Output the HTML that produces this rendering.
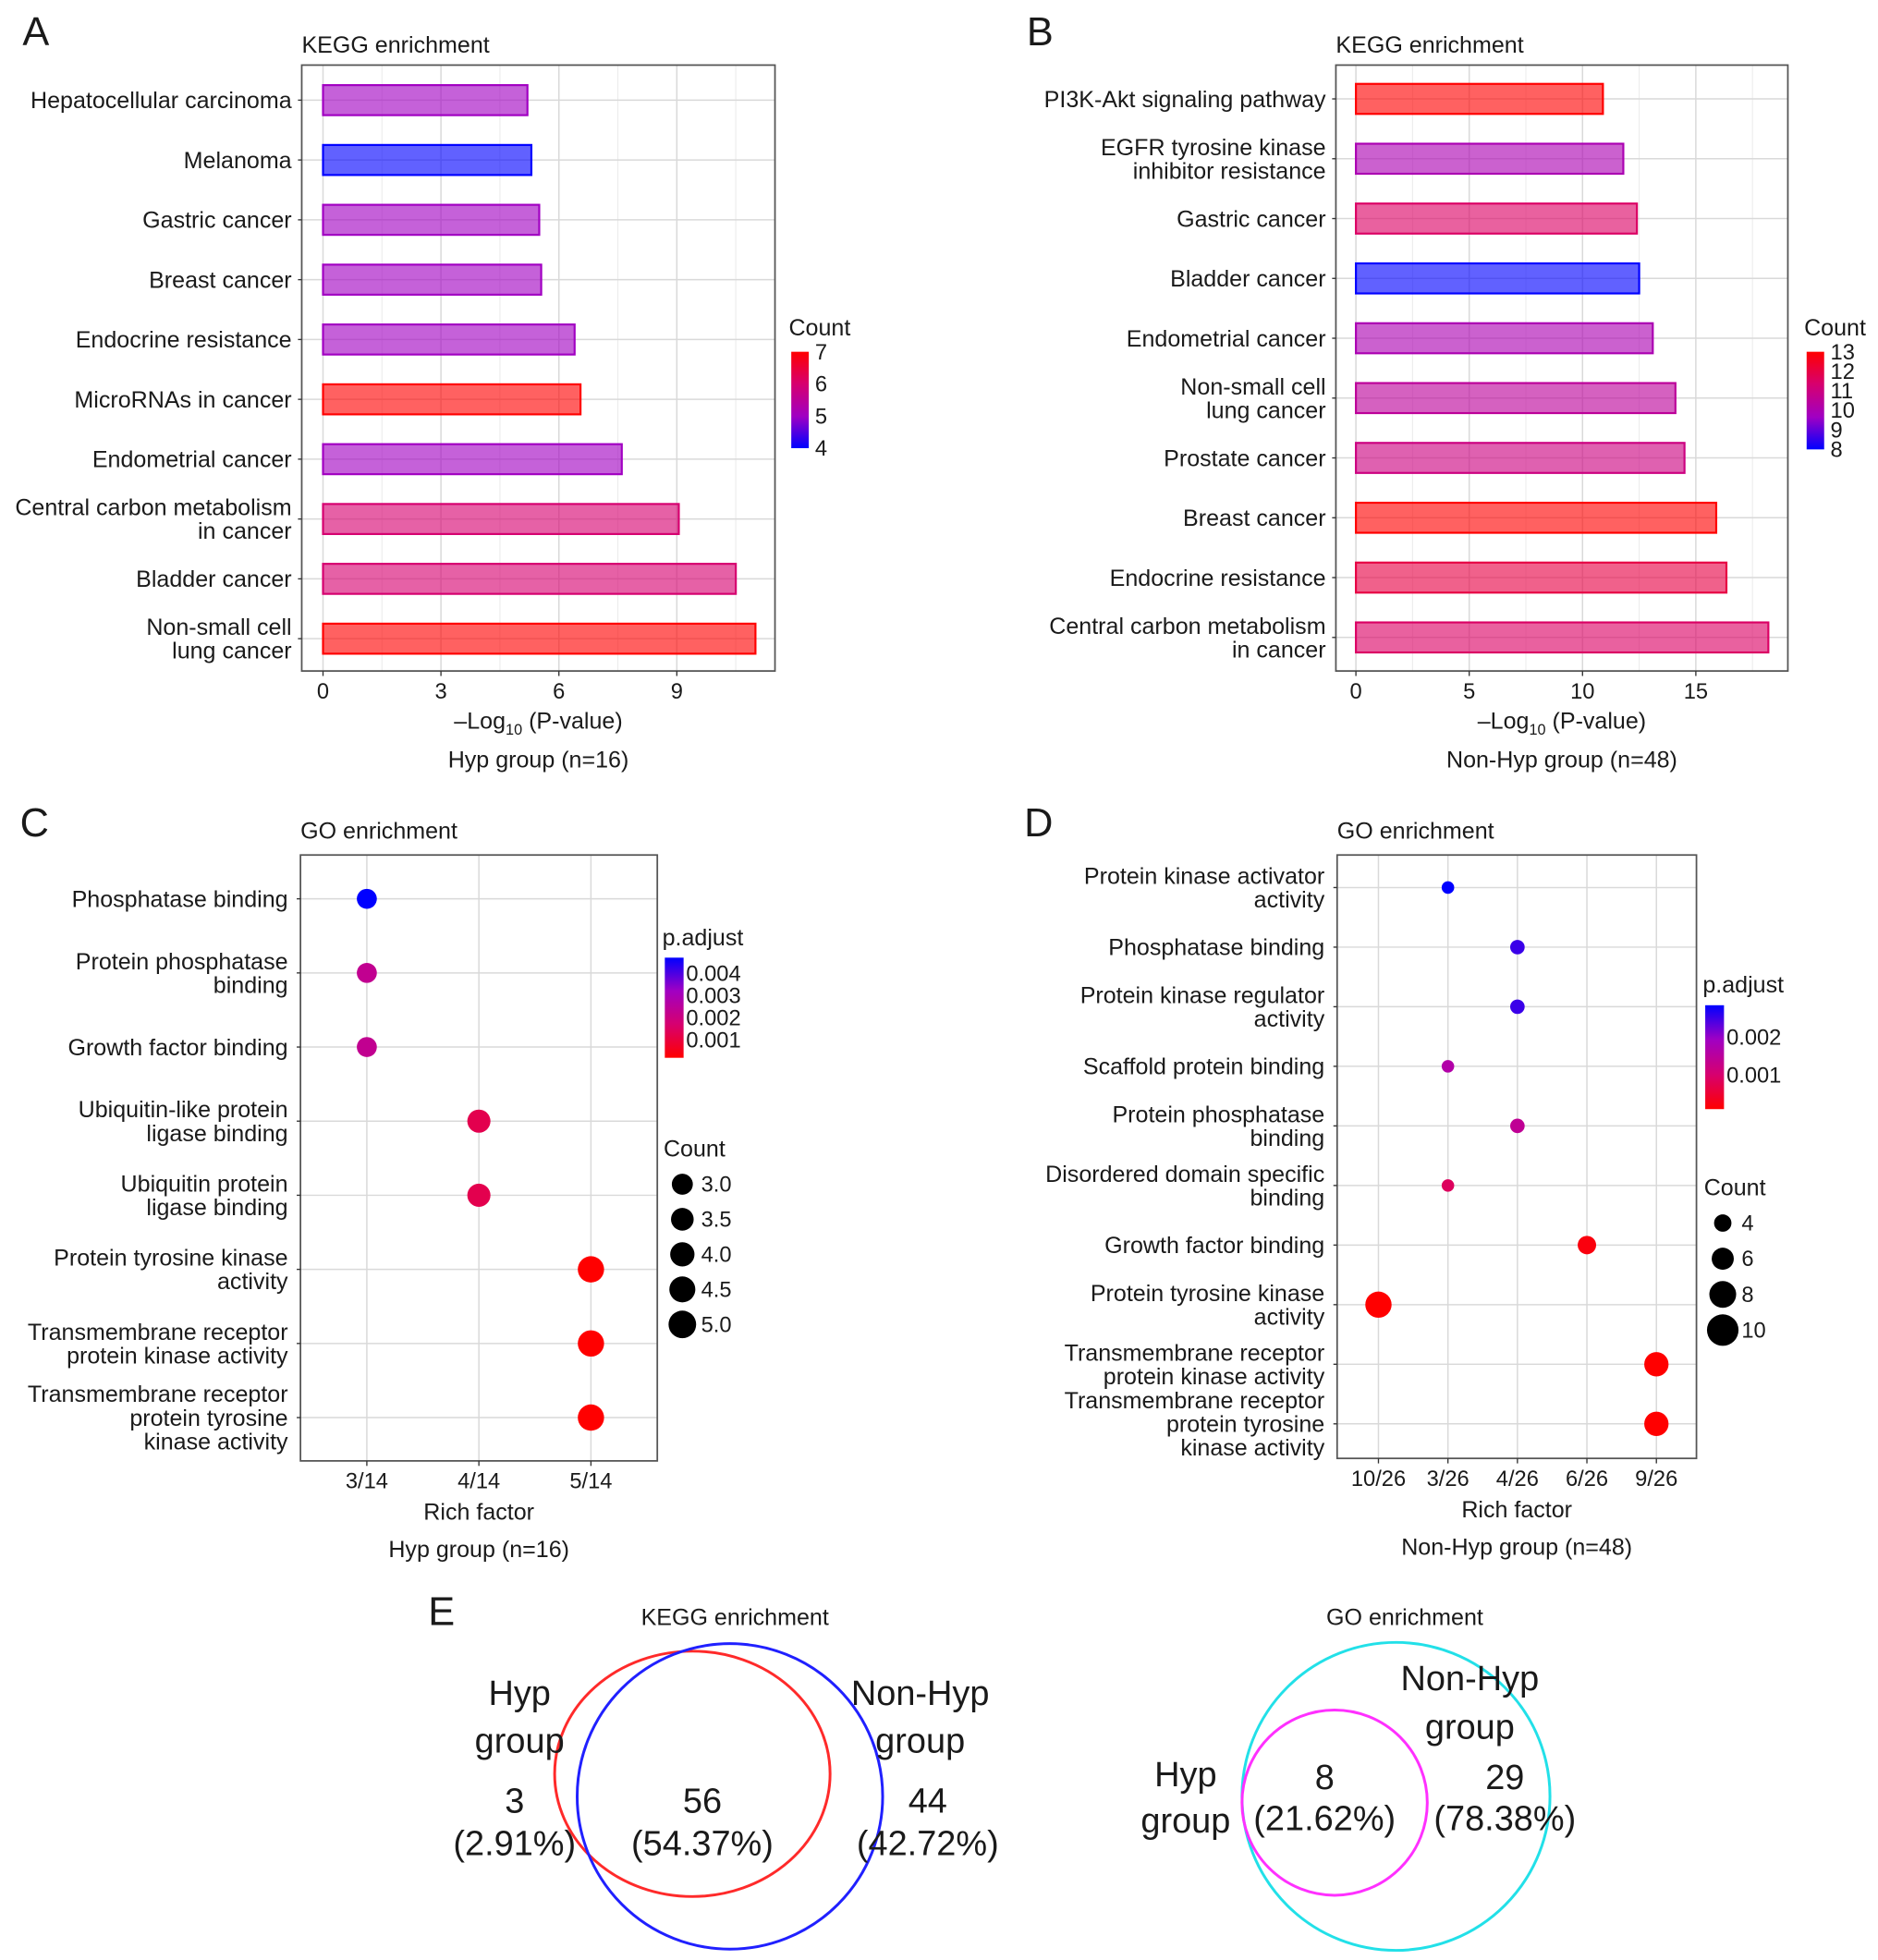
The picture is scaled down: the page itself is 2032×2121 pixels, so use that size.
<!DOCTYPE html>
<html><head><meta charset="utf-8"><style>
html,body{margin:0;padding:0;background:#fff}
svg{display:block}
text{font-family:"Liberation Sans",Arial,sans-serif;fill:#1a1a1a}
</style></head><body>
<svg id="fig" width="2032" height="2121" viewBox="0 0 1500 1565.7" xmlns="http://www.w3.org/2000/svg"></svg>
<script>
// ---------- data ----------
const aCats = ["Hepatocellular carcinoma","Melanoma","Gastric cancer","Breast cancer","Endocrine resistance","MicroRNAs in cancer","Endometrial cancer","Central carbon metabolism|in cancer","Bladder cancer","Non-small cell|lung cancer"];
const aVals = [5.2,5.3,5.5,5.55,6.4,6.55,7.6,9.05,10.5,11.0];
const aCounts = [5,4,5,5,5,7,5,6,6,7];
const aTicks = [0,3,6,9];
const aLegendTicks = [4,5,6,7];

const bCats = ["PI3K-Akt signaling pathway","EGFR tyrosine kinase|inhibitor resistance","Gastric cancer","Bladder cancer","Endometrial cancer","Non-small cell|lung cancer","Prostate cancer","Breast cancer","Endocrine resistance","Central carbon metabolism|in cancer"];
const bVals = [10.9,11.8,12.4,12.5,13.1,14.1,14.5,15.9,16.35,18.2];
const bCounts = [13,10,11.5,8,10,10.5,11,13,12,11.5];
const bTicks = [0,5,10,15];
const bLegendTicks = [8,9,10,11,12,13];

const cCats = ["Phosphatase binding","Protein phosphatase|binding","Growth factor binding","Ubiquitin-like protein|ligase binding","Ubiquitin protein|ligase binding","Protein tyrosine kinase|activity","Transmembrane receptor|protein kinase activity","Transmembrane receptor|protein tyrosine|kinase activity"];
const cX = ["3/14","3/14","3/14","4/14","4/14","5/14","5/14","5/14"];
const cCounts = [3,3,3,4,4,5,5,5];
const cPadj = [0.0045,0.0022,0.0022,0.0012,0.0012,0.0002,0.0002,0.0002];
const cXLevels = ["3/14","4/14","5/14"];
const cPTicks = [0.004,0.003,0.002,0.001];
const cCountTicks = [3.0,3.5,4.0,4.5,5.0];

const dCats = ["Protein kinase activator|activity","Phosphatase binding","Protein kinase regulator|activity","Scaffold protein binding","Protein phosphatase|binding","Disordered domain specific|binding","Growth factor binding","Protein tyrosine kinase|activity","Transmembrane receptor|protein kinase activity","Transmembrane receptor|protein tyrosine|kinase activity"];
const dX = ["3/26","4/26","4/26","3/26","4/26","3/26","6/26","10/26","9/26","9/26"];
const dCounts = [3,4,4,3,4,3,6,10,9,9];
const dPadj = [0.0026,0.0023,0.0023,0.0015,0.0013,0.0008,0.0002,0.0001,0.0001,0.0001];
const dXLevels = ["10/26","3/26","4/26","6/26","9/26"];
const dPTicks = [0.002,0.001];
const dCountTicks = [4,6,8,10];

const keggVenn = ["3","(2.91%)","56","(54.37%)","44","(42.72%)"];
const goVenn = ["8","(21.62%)","29","(78.38%)"];

// ---------- helpers ----------
const NS="http://www.w3.org/2000/svg";
const svg=document.getElementById('fig');
const FS=18.5, TS=17.5;
function el(tag,attrs,parent){const e=document.createElementNS(NS,tag);for(const k in attrs)e.setAttribute(k,attrs[k]);(parent||svg).appendChild(e);return e;}
function txt(s,x,y,size,anchor,parent){const t=el('text',{x:x,y:y,'font-size':size,'text-anchor':anchor||'start'},parent);t.textContent=s;return t;}
const stops=[[0,[0,0,255]],[0.33,[160,0,195]],[0.67,[215,0,110]],[1,[255,0,0]]];
function grad(t){t=Math.max(0,Math.min(1,t));for(let i=1;i<stops.length;i++){if(t<=stops[i][0]){const a=stops[i-1],b=stops[i];const f=(t-a[0])/(b[0]-a[0]);const c=a[1].map((v,j)=>Math.round(v+(b[1][j]-v)*f));return `rgb(${c})`;}}return 'rgb(255,0,0)';}
const defs=el('defs',{});
function gradDef(id,y1,y2){const g=el('linearGradient',{id:id,x1:0,y1:y1,x2:0,y2:y2},defs);stops.forEach(s=>el('stop',{offset:s[0],'stop-color':grad(s[0])},g));}
gradDef('cg',1,0);   // red on top
gradDef('pg',0,1);   // blue on top
function multiline(label,x,yc,size,g){const parts=label.split('|');const lh=size*1.02;const y0=yc-(parts.length-1)*lh/2+size*0.35;parts.forEach((p,i)=>txt(p,x,y0+i*lh,size,'end',g));}

// ---------- bar chart ----------
function barChart(o){
  const g=el('g',{});
  
  const xs=v=>o.x0+(v-o.xmin)*o.ppu;
  const ys=i=>o.top+o.rowStart+i*o.step;
  for(let k=0;k<o.ticks.length;k++){const m=o.ticks[k]+(o.ticks[1]-o.ticks[0])/2;if(xs(m)<o.right)el('line',{x1:xs(m),x2:xs(m),y1:o.top,y2:o.bottom,stroke:'#ececec','stroke-width':0.8},g);}
  o.ticks.forEach(t=>el('line',{x1:xs(t),x2:xs(t),y1:o.top,y2:o.bottom,stroke:'#d9d9d9','stroke-width':1.1},g));
  o.cats.forEach((c,i)=>el('line',{x1:o.left,x2:o.right,y1:ys(i),y2:ys(i),stroke:'#d9d9d9','stroke-width':1.1},g));
  o.vals.forEach((v,i)=>{const col=grad((o.counts[i]-o.cmin)/(o.cmax-o.cmin));
    const r=el('rect',{x:xs(0),y:ys(i)-12,width:xs(v)-xs(0),height:24,fill:col,'fill-opacity':0.62,stroke:col,'stroke-width':1.6},g);
    });
  el('rect',{x:o.left,y:o.top,width:o.right-o.left,height:o.bottom-o.top,fill:'none',stroke:'#555','stroke-width':1.3},g);
  o.cats.forEach((c,i)=>{el('line',{x1:o.left-3,x2:o.left,y1:ys(i),y2:ys(i),stroke:'#333'},g);multiline(c,o.left-8,ys(i),FS,g);});
  o.ticks.forEach(t=>{el('line',{x1:xs(t),x2:xs(t),y1:o.bottom,y2:o.bottom+4,stroke:'#333'},g);txt(String(t),xs(t),o.bottom+22,TS,'middle',g);});
  const xt=el('text',{x:(o.left+o.right)/2,y:o.bottom+46,'font-size':FS,'text-anchor':'middle'},g);
  xt.innerHTML='–Log<tspan font-size="12" dy="5">10</tspan><tspan dy="-5"> (P-value)</tspan>';
  
  txt(o.sub,(o.left+o.right)/2,o.bottom+77,FS,'middle',g);
  txt('KEGG enrichment',o.left,o.top-10,FS,'start',g);
  const lg=el('g',{},g);
  txt('Count',o.legX,o.legTop-13,FS,'start',lg);
  el('rect',{x:o.legX+2,y:o.legTop,width:14,height:o.legH,fill:'url(#cg)'},lg);
  o.legTicks.forEach(t=>{const y=o.legTop+o.legH-(t-o.cmin)/(o.cmax-o.cmin)*o.legH;txt(String(t),o.legX+21,y+6,TS,'start',lg);});
}
barChart({name:'panel-a-kegg-bar',cats:aCats,vals:aVals,counts:aCounts,ticks:aTicks,cmin:4,cmax:7,legTicks:aLegendTicks,
  left:241,right:619,top:52,bottom:536,x0:258,xmin:0,ppu:31.4,rowStart:28,step:47.8,sub:'Hyp group (n=16)',legX:630,legTop:281,legH:77});
barChart({name:'panel-b-kegg-bar',cats:bCats,vals:bVals,counts:bCounts,ticks:bTicks,cmin:8,cmax:13,legTicks:bLegendTicks,
  left:1067,right:1428,top:52,bottom:536,x0:1083,xmin:0,ppu:18.1,rowStart:27,step:47.8,sub:'Non-Hyp group (n=48)',legX:1441,legTop:281,legH:78});

// ---------- dot chart ----------
function dotChart(o){
  const g=el('g',{});
  
  const xs=l=>o.xpos0+o.levels.indexOf(l)*o.xstep;
  const ys=i=>o.top+o.rowStart+i*o.step;
  const rs=c=>o.rmin+(c-o.cmin)/(o.cmax-o.cmin)*(o.rmax-o.rmin);
  const col=p=>grad(1-(p-o.pmin)/(o.pmax-o.pmin));
  o.levels.forEach(l=>el('line',{x1:xs(l),x2:xs(l),y1:o.top,y2:o.bottom,stroke:'#d9d9d9','stroke-width':1.1},g));
  o.cats.forEach((c,i)=>el('line',{x1:o.left,x2:o.right,y1:ys(i),y2:ys(i),stroke:'#d9d9d9','stroke-width':1.1},g));
  o.cats.forEach((c,i)=>{const d=el('circle',{cx:xs(o.xv[i]),cy:ys(i),r:rs(o.counts[i]),fill:col(o.padj[i])},g);
    });
  el('rect',{x:o.left,y:o.top,width:o.right-o.left,height:o.bottom-o.top,fill:'none',stroke:'#555','stroke-width':1.3},g);
  o.cats.forEach((c,i)=>{el('line',{x1:o.left-3,x2:o.left,y1:ys(i),y2:ys(i),stroke:'#333'},g);multiline(c,o.left-10,ys(i),FS,g);});
  o.levels.forEach(l=>{el('line',{x1:xs(l),x2:xs(l),y1:o.bottom,y2:o.bottom+4,stroke:'#333'},g);txt(l,xs(l),o.bottom+22,TS,'middle',g);});
  txt('Rich factor',(o.left+o.right)/2,o.bottom+47,FS,'middle',g);
  txt(o.sub,(o.left+o.right)/2,o.bottom+77,FS,'middle',g);
  txt('GO enrichment',o.left,o.top-13,FS,'start',g);
  const lg=el('g',{},g);
  txt('p.adjust',o.legX-1,o.pTop-10,FS,'start',lg);
  el('rect',{x:o.legX+1,y:o.pTop,width:15,height:o.pH,fill:'url(#pg)'},lg);
  o.pTicks.forEach(t=>{const y=o.pTop+(o.pLegMax-t)/(o.pLegMax-o.pLegMin)*o.pH;txt(t.toFixed(3),o.legX+18,y+6,TS,'start',lg);});
  const cg=el('g',{},g);
  txt('Count',o.legX,o.cTop-10,FS,'start',cg);
  o.cTicks.forEach((t,k)=>{const y=o.cTop+12+k*o.cStep;el('circle',{cx:o.legX+15,cy:y,r:rs(t)*o.legScale,fill:'#000'},cg);txt(o.cFmt(t),o.legX+30,y+6,TS,'start',cg);});
}
dotChart({name:'panel-c-go-dot',cats:cCats,xv:cX,counts:cCounts,padj:cPadj,levels:cXLevels,
  left:240,right:525,top:683,bottom:1167,xpos0:293,xstep:89.5,rowStart:35,step:59.2,rmin:8,rmax:10.5,cmin:3,cmax:5,
  pmin:0.0002,pmax:0.0045,sub:'Hyp group (n=16)',legX:530,pTop:765,pH:80,pLegMax:0.0047,pLegMin:0.0002,pTicks:cPTicks,
  cTop:934,cStep:28,cTicks:cCountTicks,cFmt:t=>t.toFixed(1),legScale:1.05});
dotChart({name:'panel-d-go-dot',cats:dCats,xv:dX,counts:dCounts,padj:dPadj,levels:dXLevels,
  left:1068,right:1355,top:683,bottom:1165,xpos0:1101,xstep:55.5,rowStart:26,step:47.6,rmin:5,rmax:10.5,cmin:3,cmax:10,
  pmin:0.0001,pmax:0.0026,sub:'Non-Hyp group (n=48)',legX:1361,pTop:803,pH:83,pLegMax:0.00285,pLegMin:0.0001,pTicks:dPTicks,
  cTop:965,cStep:28.5,cTicks:dCountTicks,cFmt:t=>String(t),legScale:1.2});

// ---------- panel letters ----------
[['A',18,36],['B',820,36],['C',16,668],['D',818,668],['E',342,1298]].forEach(p=>{const t=txt(p[0],p[1],p[2],32,'start');});

// ---------- venn ----------
const VS=28;
const v1=el('g',{});
txt('KEGG enrichment',587,1298,FS,'middle',v1);
el('ellipse',{cx:553,cy:1417,rx:110,ry:98,fill:'none',stroke:'#ff2a2a','stroke-width':2.2},v1);
el('circle',{cx:583,cy:1435,r:122,fill:'none',stroke:'#2020ff','stroke-width':2.2},v1);
txt('Hyp',415,1362,VS,'middle',v1);txt('group',415,1400,VS,'middle',v1);
txt('Non-Hyp',735,1362,VS,'middle',v1);txt('group',735,1400,VS,'middle',v1);
txt(keggVenn[0],411,1448,VS,'middle',v1);txt(keggVenn[1],411,1482,VS,'middle',v1);
txt(keggVenn[2],561,1448,VS,'middle',v1);txt(keggVenn[3],561,1482,VS,'middle',v1);
txt(keggVenn[4],741,1448,VS,'middle',v1);txt(keggVenn[5],741,1482,VS,'middle',v1);
const v2=el('g',{});
txt('GO enrichment',1122,1298,FS,'middle',v2);
el('circle',{cx:1115,cy:1435,r:123,fill:'none',stroke:'#22e0e8','stroke-width':2.2},v2);
el('circle',{cx:1066,cy:1440,r:74,fill:'none',stroke:'#ff30ff','stroke-width':2.2},v2);
txt('Non-Hyp',1174,1350,VS,'middle',v2);txt('group',1174,1389,VS,'middle',v2);
txt('Hyp',947,1427,VS,'middle',v2);txt('group',947,1464,VS,'middle',v2);
txt(goVenn[0],1058,1429,VS,'middle',v2);txt(goVenn[1],1058,1462,VS,'middle',v2);
txt(goVenn[2],1202,1429,VS,'middle',v2);txt(goVenn[3],1202,1462,VS,'middle',v2);
</script>
</body></html>
